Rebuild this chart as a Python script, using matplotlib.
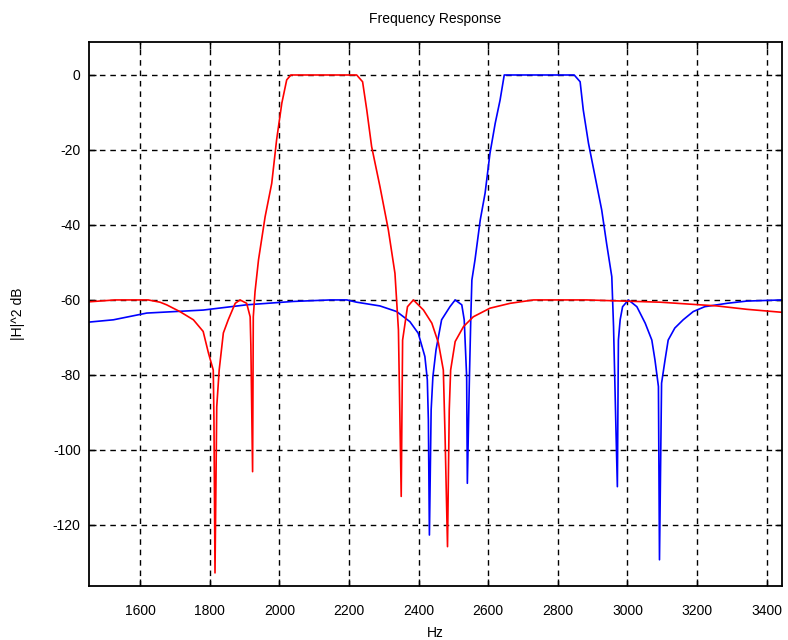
"""
Frequency response of two band-pass filters (red: lower band, blue: upper band).
"""

# %% imports
import numpy as np
import matplotlib
matplotlib.use('Agg')
import matplotlib.pyplot as plt


# %% data (Hz, dB)
red_hz = [1453, 1528, 1623, 1657, 1676, 1714, 1753, 1781, 1796, 1810, 1812, 1815,
          1820, 1827, 1839, 1853, 1873, 1887, 1906, 1916, 1918, 1923, 1925, 1930,
          1940, 1959, 1978, 1992, 2007, 2021, 2033, 2222, 2239, 2251, 2265, 2289,
          2313, 2332, 2342, 2350, 2354, 2368, 2385, 2414, 2438, 2457, 2471, 2476,
          2483, 2488, 2492, 2505, 2529, 2557, 2605, 2663, 2730, 2883, 3094, 3257,
          3343, 3444]
red_db = [-60.5, -60.0, -60.0, -60.6, -61.3, -63.1, -65.3, -68.4, -74.1, -78.7, -92.0, -132.8,
          -88.5, -78.7, -68.8, -65.3, -60.9, -60.0, -60.9, -64.5, -72.0, -105.8, -64.5, -57.8,
          -49.3, -37.8, -28.9, -17.3, -7.5, -1.3, 0.0, 0.0, -1.8, -9.3, -19.1, -29.8,
          -41.3, -52.9, -68.0, -112.4, -70.7, -61.8, -60.0, -62.7, -66.2, -71.5, -78.7, -96.4,
          -125.8, -89.3, -78.7, -71.1, -67.1, -64.5, -62.2, -60.9, -60.0, -60.0, -60.6, -61.6,
          -62.5, -63.3]

blue_hz = [1454, 1523, 1619, 1781, 1906, 2040, 2146, 2194, 2222, 2289, 2337, 2375,
           2399, 2418, 2425, 2428, 2431, 2436, 2441, 2450, 2466, 2490, 2505, 2524,
           2531, 2538, 2540, 2546, 2550, 2553, 2562, 2577, 2591, 2605, 2620, 2634,
           2646, 2847, 2864, 2873, 2888, 2907, 2926, 2940, 2955, 2960, 2967, 2971,
           2974, 2979, 2986, 3003, 3027, 3051, 3070, 3079, 3089, 3092, 3098, 3108,
           3117, 3136, 3160, 3189, 3222, 3286, 3343, 3444]
blue_db = [-65.9, -65.3, -63.5, -62.7, -61.3, -60.4, -60.0, -60.0, -60.6, -61.6, -63.1, -65.8,
           -68.9, -75.1, -81.3, -92.0, -122.7, -89.3, -80.5, -73.3, -65.3, -61.8, -60.0, -61.3,
           -65.3, -80.5, -108.9, -80.5, -64.5, -54.7, -49.3, -38.7, -31.5, -20.9, -12.9, -6.7,
           0.0, 0.0, -1.8, -9.3, -18.2, -27.1, -36.0, -44.9, -53.8, -67.1, -94.7, -109.8,
           -70.7, -65.3, -61.8, -60.0, -61.8, -66.2, -70.7, -76.0, -83.1, -129.3, -82.2, -76.0,
           -70.7, -67.5, -65.3, -63.1, -61.8, -60.9, -60.3, -60.0]

xticks = np.arange(1600, 3401, 200)
yticks = np.arange(-120, 1, 20)


# %% plot
plt.rcParams['font.family'] = ['Liberation Sans', 'DejaVu Sans']
plt.rcParams['axes.unicode_minus'] = False

fig = plt.figure(figsize=(7.88, 6.40), dpi=100)
ax = fig.add_axes([89 / 788, 54 / 640, 693 / 788, 544 / 640])

ax.plot(blue_hz, blue_db, color='#0000ff', lw=1.2)
ax.plot(red_hz, red_db, color='#ff0000', lw=1.2)

ax.set_xlim(1453, 3444)
ax.set_ylim(-136.3, 8.8)
ax.set_xticks(xticks)
ax.set_yticks(yticks)
ax.grid(True, color='black', linestyle=(0, (4, 3.5)), lw=1.0)
ax.tick_params(direction='in', top=True, right=True, length=5, width=1.0,
               labelsize=10)
ax.tick_params(axis='x', pad=13)
ax.tick_params(axis='y', pad=6)
for sp in ax.spines.values():
    sp.set_linewidth(1.3)

ax.set_title('Frequency Response', fontsize=10, pad=14)
ax.set_xlabel('Hz', fontsize=10, labelpad=6)
ax.set_ylabel('|H|^2 dB', fontsize=10, labelpad=20)

fig.savefig('out.png', dpi=100)
